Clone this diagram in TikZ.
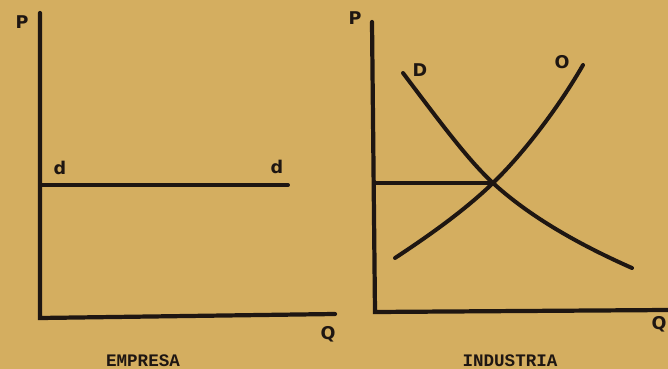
\documentclass[tikz,border=0pt]{standalone}
\usepackage{fontspec}
\setmonofont{Liberation Mono}
\setsansfont{DejaVu Sans}
\usetikzlibrary{positioning}
\definecolor{scTan}{HTML}{D4AE60}
\definecolor{scInk}{HTML}{1E1612}
\tikzset{
  axisline/.style={scInk, line width=3.6pt, line cap=round},
  curveline/.style={scInk, line width=3.4pt, line cap=round},
  handlbl/.style={font=\sffamily\bfseries\fontsize{15}{17}\selectfont, scInk, inner sep=0pt},
  caption/.style={font=\ttfamily\bfseries\fontsize{15}{18}\selectfont, scInk, inner sep=0pt}
}

\begin{document}
\begin{tikzpicture}[x=0.03cm, y=-0.03cm]
    \fill[scTan] (0,0) rectangle (668,369);
    \useasboundingbox (0,0) rectangle (668,369);
    % empresa
    \coordinate (eTop) at (40,13);
    \coordinate (eOrig) at (40,318);
    \coordinate (eEnd) at (335,314);
    \coordinate (ePrice) at (40,185);
    \coordinate (eDem) at (288,185);
    \draw[axisline] (eTop) -- (eOrig) -- (eEnd);
    \draw[curveline] (ePrice) -- (eDem);
    \node[handlbl] (eP) at (22,22) {P};
    \node[handlbl] (eDa) at (60,168) {d};
    \node[handlbl] (eDb) at (277,167) {d};
    \node[handlbl] (eQ) at (328,334) {Q};
    \node[caption] (capE) at (143,361) {EMPRESA};
    % industria
    \coordinate (iTop) at (372,22);
    \coordinate (iOrig) at (375,312);
    \coordinate (iEnd) at (668,310);
    \coordinate (iPrice) at (375,183);
    \coordinate (iX) at (493,183);
    \draw[axisline] (iTop) -- (iOrig) -- (iEnd);
    \draw[curveline] (iPrice) -- (iX);
    \draw[curveline] (403,73) .. controls (440,122) and (468,160) .. (iX)
      .. controls (530,217) and (580,245) .. (632,268);
    \draw[curveline] (395,258) .. controls (430,235) and (465,210) .. (iX)
      .. controls (525,152) and (560,105) .. (583,65);
    \node[handlbl] (iP) at (355,18) {P};
    \node[handlbl] (iD) at (420,70) {D};
    \node[handlbl] (iO) at (562,62) {O};
    \node[handlbl] (iQ) at (659,324) {Q};
    \node[caption] (capI) at (510,361) {INDUSTRIA};
  \end{tikzpicture}
\end{document}
